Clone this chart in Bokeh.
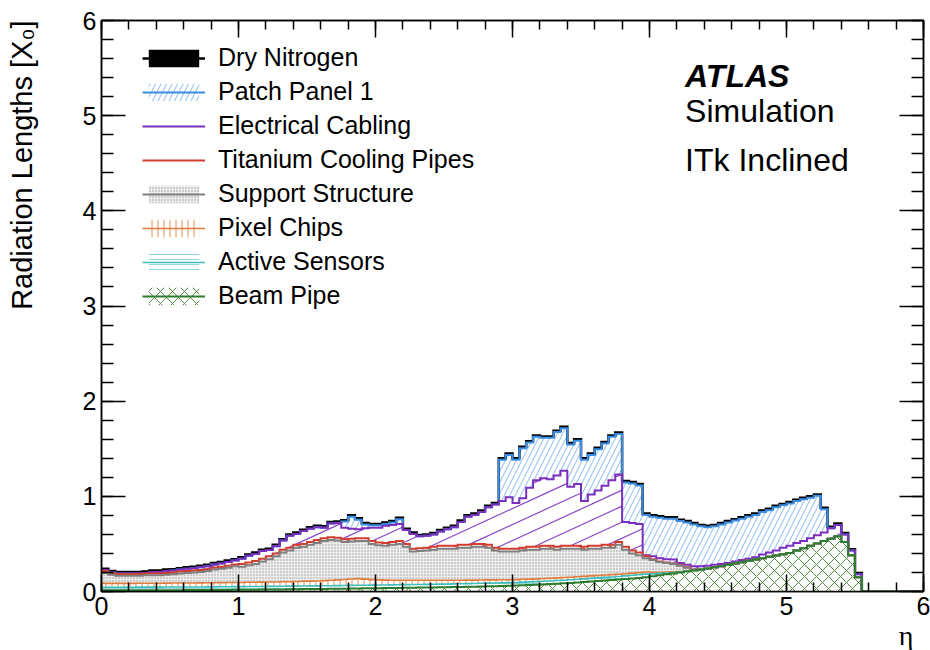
import numpy as np
from bokeh.plotting import figure
from bokeh.models import (Range1d, LinearAxis, SingleIntervalTicker, Legend, LegendItem,
                          Label, Title, CustomJSTickFormatter)
from bokeh.embed import file_html
from bokeh.resources import INLINE

# ---------------- data: 120 eta bins of width 0.05 from 0 to 6 ----------------
eta_min, eta_max, n_bins = 0.0, 6.0, 120
eta_edges = np.linspace(eta_min, eta_max, n_bins + 1)

beam_pipe = [
    0.012, 0.012, 0.012, 0.012, 0.012, 0.013, 0.013, 0.013, 0.013, 0.014, 0.014, 0.014, 0.015, 0.015, 0.015, 0.016, 0.016, 0.017, 0.017, 0.018,
    0.018, 0.019, 0.019, 0.020, 0.021, 0.021, 0.022, 0.023, 0.024, 0.025, 0.026, 0.026, 0.027, 0.028, 0.029, 0.030, 0.031, 0.032, 0.033, 0.034,
    0.035, 0.036, 0.037, 0.038, 0.039, 0.040, 0.041, 0.042, 0.043, 0.044, 0.045, 0.047, 0.048, 0.050, 0.051, 0.053, 0.055, 0.056, 0.058, 0.060,
    0.062, 0.065, 0.068, 0.071, 0.074, 0.078, 0.082, 0.086, 0.090, 0.095, 0.100, 0.105, 0.110, 0.115, 0.120, 0.125, 0.131, 0.137, 0.143, 0.150,
    0.160, 0.170, 0.180, 0.190, 0.200, 0.210, 0.220, 0.230, 0.242, 0.254, 0.266, 0.280, 0.294, 0.308, 0.322, 0.336, 0.350, 0.364, 0.378, 0.392,
    0.405, 0.430, 0.455, 0.480, 0.505, 0.530, 0.555, 0.580, 0.520, 0.380, 0.150, 0, 0, 0, 0, 0, 0, 0, 0, 0,
]
active_sensors = [
    0.033, 0.033, 0.033, 0.033, 0.033, 0.033, 0.033, 0.033, 0.033, 0.033, 0.033, 0.033, 0.033, 0.033, 0.033, 0.033, 0.033, 0.033, 0.033, 0.033,
    0.033, 0.033, 0.033, 0.033, 0.033, 0.033, 0.033, 0.033, 0.033, 0.033, 0.033, 0.033, 0.033, 0.033, 0.033, 0.033, 0.033, 0.033, 0.033, 0.033,
    0.033, 0.033, 0.033, 0.033, 0.033, 0.033, 0.033, 0.033, 0.033, 0.033, 0.033, 0.033, 0.033, 0.033, 0.033, 0.033, 0.033, 0.033, 0.033, 0.033,
    0.033, 0.033, 0.033, 0.033, 0.033, 0.033, 0.033, 0.033, 0.033, 0.033, 0.033, 0.033, 0.033, 0.033, 0.033, 0.033, 0.033, 0.033, 0.033, 0.033,
    0.025, 0.020, 0.015, 0.010, 0.006, 0.003, 0.001, 0, 0, 0, 0, 0, 0, 0, 0, 0, 0, 0, 0, 0,
    0, 0, 0, 0, 0, 0, 0, 0, 0, 0, 0, 0, 0, 0, 0, 0, 0, 0, 0, 0,
]
pixel_chips = [
    0.040, 0.040, 0.040, 0.040, 0.040, 0.041, 0.041, 0.041, 0.041, 0.041, 0.042, 0.042, 0.042, 0.042, 0.043, 0.043, 0.043, 0.043, 0.044, 0.044,
    0.044, 0.045, 0.045, 0.045, 0.046, 0.046, 0.047, 0.047, 0.048, 0.049, 0.050, 0.052, 0.054, 0.057, 0.060, 0.063, 0.068, 0.070, 0.064, 0.058,
    0.054, 0.051, 0.049, 0.047, 0.046, 0.045, 0.044, 0.043, 0.042, 0.041, 0.040, 0.039, 0.038, 0.037, 0.036, 0.035, 0.034, 0.033, 0.032, 0.031,
    0.030, 0.030, 0.029, 0.029, 0.029, 0.028, 0.028, 0.028, 0.027, 0.027, 0.026, 0.026, 0.025, 0.025, 0.024, 0.024, 0.023, 0.023, 0.022, 0.022,
    0.017, 0.013, 0.010, 0.007, 0.004, 0.002, 0.001, 0, 0, 0, 0, 0, 0, 0, 0, 0, 0, 0, 0, 0,
    0, 0, 0, 0, 0, 0, 0, 0, 0, 0, 0, 0, 0, 0, 0, 0, 0, 0, 0, 0,
]
support_structure = [
    0.110, 0.090, 0.080, 0.080, 0.080, 0.078, 0.083, 0.083, 0.083, 0.087, 0.091, 0.101, 0.105, 0.110, 0.114, 0.123, 0.138, 0.147, 0.156, 0.170,
    0.165, 0.178, 0.193, 0.217, 0.240, 0.270, 0.308, 0.327, 0.355, 0.363, 0.381, 0.399, 0.416, 0.422, 0.413, 0.394, 0.393, 0.395, 0.400, 0.375,
    0.363, 0.360, 0.371, 0.382, 0.352, 0.302, 0.307, 0.312, 0.322, 0.332, 0.332, 0.331, 0.341, 0.340, 0.350, 0.349, 0.338, 0.308, 0.297, 0.296,
    0.295, 0.302, 0.310, 0.307, 0.314, 0.311, 0.297, 0.303, 0.300, 0.295, 0.281, 0.286, 0.282, 0.287, 0.283, 0.308, 0.253, 0.207, 0.182, 0.145,
    0.128, 0.107, 0.095, 0.083, 0.060, 0.035, 0.008, 0, 0, 0, 0, 0, 0, 0, 0, 0, 0, 0, 0, 0,
    0, 0, 0, 0, 0, 0, 0, 0, 0, 0, 0, 0, 0, 0, 0, 0, 0, 0, 0, 0,
]
titanium_cooling = [
    0.020, 0.020, 0.020, 0.020, 0.020, 0.020, 0.020, 0.020, 0.020, 0.020, 0.020, 0.020, 0.020, 0.020, 0.020, 0.020, 0.020, 0.020, 0.020, 0.020,
    0.030, 0.030, 0.030, 0.030, 0.030, 0.030, 0.030, 0.030, 0.030, 0.030, 0.030, 0.030, 0.030, 0.030, 0.030, 0.030, 0.030, 0.030, 0.030, 0.030,
    0.030, 0.030, 0.030, 0.030, 0.030, 0.030, 0.030, 0.030, 0.030, 0.030, 0.030, 0.030, 0.030, 0.030, 0.030, 0.030, 0.030, 0.030, 0.030, 0.030,
    0.030, 0.030, 0.030, 0.030, 0.030, 0.030, 0.030, 0.030, 0.030, 0.030, 0.030, 0.030, 0.030, 0.030, 0.030, 0.030, 0.030, 0.030, 0.030, 0.020,
    0.010, 0.005, 0.005, 0.005, 0.005, 0.005, 0.002, 0, 0, 0, 0, 0, 0, 0, 0, 0, 0, 0, 0, 0,
    0, 0, 0, 0, 0, 0, 0, 0, 0, 0, 0, 0, 0, 0, 0, 0, 0, 0, 0, 0,
]
electrical_cabling = [
    0.010, 0.005, 0.005, 0.005, 0.005, 0.005, 0.005, 0.015, 0.015, 0.020, 0.020, 0.020, 0.025, 0.025, 0.030, 0.030, 0.035, 0.035, 0.040, 0.040,
    0.055, 0.070, 0.075, 0.080, 0.065, 0.075, 0.095, 0.125, 0.115, 0.135, 0.140, 0.135, 0.110, 0.145, 0.155, 0.120, 0.105, 0.095, 0.105, 0.140,
    0.155, 0.180, 0.180, 0.180, 0.145, 0.155, 0.125, 0.125, 0.130, 0.150, 0.175, 0.195, 0.240, 0.295, 0.305, 0.335, 0.395, 0.455, 0.500, 0.540,
    0.480, 0.520, 0.620, 0.700, 0.710, 0.700, 0.750, 0.790, 0.620, 0.650, 0.480, 0.540, 0.580, 0.620, 0.680, 0.710, 0.260, 0.290, 0.300, 0.010,
    0.030, 0.035, 0.035, 0.040, 0.025, 0.025, 0.033, 0.035, 0.028, 0.026, 0.024, 0.020, 0.021, 0.022, 0.023, 0.024, 0.040, 0.046, 0.052, 0.068,
    0.075, 0.080, 0.075, 0.080, 0.085, 0.090, 0.110, 0.120, 0.080, 0.050, 0.030, 0, 0, 0, 0, 0, 0, 0, 0, 0,
]
patch_panel = [
    0, 0, 0, 0, 0, 0, 0, 0, 0, 0, 0, 0, 0, 0, 0, 0, 0, 0, 0, 0,
    0, 0, 0, 0, 0, 0, 0, 0, 0, 0, 0, 0, 0, 0, 0, 0.065, 0.125, 0.100, 0.040, 0.025,
    0.025, 0.020, 0.025, 0.050, 0, 0, 0, 0, 0, 0, 0, 0, 0, 0, 0, 0, 0, 0, 0.435, 0.445,
    0.455, 0.525, 0.475, 0.455, 0.425, 0.435, 0.455, 0.445, 0.445, 0.455, 0.435, 0.415, 0.435, 0.445, 0.455, 0.425, 0.415, 0.415, 0.405, 0.425,
    0.415, 0.425, 0.425, 0.430, 0.440, 0.445, 0.440, 0.420, 0.405, 0.405, 0.415, 0.425, 0.430, 0.435, 0.440, 0.445, 0.445, 0.445, 0.455, 0.445,
    0.445, 0.440, 0.440, 0.425, 0.415, 0.245, 0, 0, 0, 0, 0, 0, 0, 0, 0, 0, 0, 0, 0, 0,
]
dry_nitrogen = [
    0.015, 0.015, 0.015, 0.015, 0.015, 0.015, 0.015, 0.015, 0.015, 0.015, 0.015, 0.015, 0.015, 0.015, 0.015, 0.015, 0.015, 0.015, 0.015, 0.015,
    0.015, 0.015, 0.015, 0.015, 0.015, 0.015, 0.015, 0.015, 0.015, 0.015, 0.015, 0.015, 0.015, 0.015, 0.015, 0.015, 0.015, 0.015, 0.015, 0.015,
    0.015, 0.015, 0.015, 0.015, 0.015, 0.015, 0.015, 0.015, 0.015, 0.015, 0.015, 0.015, 0.015, 0.015, 0.015, 0.015, 0.015, 0.015, 0.015, 0.015,
    0.015, 0.015, 0.015, 0.015, 0.015, 0.015, 0.015, 0.015, 0.015, 0.015, 0.015, 0.015, 0.015, 0.015, 0.015, 0.015, 0.015, 0.015, 0.015, 0.015,
    0.015, 0.015, 0.015, 0.015, 0.015, 0.015, 0.015, 0.015, 0.015, 0.015, 0.015, 0.015, 0.015, 0.015, 0.015, 0.015, 0.015, 0.015, 0.015, 0.015,
    0.015, 0.015, 0.015, 0.015, 0.015, 0.015, 0.015, 0.015, 0.015, 0.015, 0.015, 0, 0, 0, 0, 0, 0, 0, 0, 0,
]

# stacking order, bottom to top
layer_names = ["Beam Pipe", "Active Sensors", "Pixel Chips", "Support Structure",
               "Titanium Cooling Pipes", "Electrical Cabling", "Patch Panel 1", "Dry Nitrogen"]
layer_values = [beam_pipe, active_sensors, pixel_chips, support_structure,
                titanium_cooling, electrical_cabling, patch_panel, dry_nitrogen]
legend_order = ["Dry Nitrogen", "Patch Panel 1", "Electrical Cabling", "Titanium Cooling Pipes",
                "Support Structure", "Pixel Chips", "Active Sensors", "Beam Pipe"]
for v in layer_values:
    assert len(v) == n_bins

# ---------------- styles ----------------
FONT = "Liberation Sans"
FRAME_W, FRAME_H = 822, 571

styles = {
    "Dry Nitrogen": dict(fill_color="black", hatch_pattern=None, line_color="black", line_width=2.5),
    "Patch Panel 1": dict(fill_color="white", hatch_pattern="/", hatch_color="#9cc6f2",
                          hatch_scale=11, hatch_weight=1.1, line_color="#3a8ee6", line_width=2.0),
    "Electrical Cabling": dict(fill_color="white", hatch_pattern=None, line_color="#7b2fbf", line_width=2.0,
                               lines=dict(slope=0.46, spacing=16, color="#8a45c8", width=1.2)),
    "Titanium Cooling Pipes": dict(fill_color="white", hatch_pattern=None, line_color="#d23c2c", line_width=2.0,
                                   lines=dict(slope=-0.45, spacing=14, color="#d23c2c", width=1.2)),
    "Support Structure": dict(fill_color="#ededed", hatch_pattern=".", hatch_color="#9a9a9a",
                              hatch_scale=3, hatch_weight=1, line_color="#7f7f7f", line_width=2.0),
    "Pixel Chips": dict(fill_color="white", hatch_pattern="|", hatch_color="#e69158",
                        hatch_scale=6, hatch_weight=1, line_color="#e07d3c", line_width=1.6),
    "Active Sensors": dict(fill_color="white", hatch_pattern="-", hatch_color="#90d8d8",
                           hatch_scale=5, hatch_weight=1, line_color="#3fbcbc", line_width=1.6),
    "Beam Pipe": dict(fill_color="white", hatch_pattern="x", hatch_color="#4f8f40",
                      hatch_scale=12, hatch_weight=1, line_color="#2e7a2e", line_width=2.0),
}

# ---------------- figure ----------------
p = figure(width=930, height=650, x_range=Range1d(eta_min, eta_max), y_range=Range1d(0, 6),
           output_backend="svg", toolbar_location=None, x_axis_type=None, y_axis_type=None,
           min_border_left=101, min_border_right=7, min_border_top=20, min_border_bottom=59)
p.xgrid.visible = False
p.ygrid.visible = False
p.outline_line_color = "black"
p.outline_line_width = 1.5
p.background_fill_color = "white"
p.border_fill_color = "white"

blank = CustomJSTickFormatter(code="return '';")


def make_axis(tick_in, minor_in, labels=True):
    ax = LinearAxis(ticker=SingleIntervalTicker(interval=1, num_minor_ticks=5))
    ax.major_tick_in = tick_in
    ax.major_tick_out = 0
    ax.minor_tick_in = minor_in
    ax.minor_tick_out = 0
    ax.axis_line_color = "black"
    ax.axis_line_width = 1.5
    ax.major_tick_line_width = 1.5
    ax.minor_tick_line_width = 1.5
    ax.major_label_text_font = FONT
    ax.major_label_text_color = "black"
    if labels:
        ax.major_label_text_font_size = "25px"
        ax.major_label_standoff = 5
    else:
        ax.formatter = blank
        ax.major_label_text_font_size = "1px"
        ax.major_label_standoff = 0
    return ax


p.add_layout(make_axis(17, 9), "below")
p.add_layout(make_axis(17, 9, labels=False), "above")
p.add_layout(make_axis(24, 12), "left")
p.add_layout(make_axis(24, 12, labels=False), "right")

# invisible spacer (white outward ticks) so that the y title sits at the far left, as in ROOT
spacer = LinearAxis(ticker=SingleIntervalTicker(interval=6, num_minor_ticks=0), formatter=blank,
                    major_label_text_font_size="1px", major_label_standoff=0,
                    axis_line_color=None, major_tick_line_color="white", minor_tick_line_color=None,
                    major_tick_in=0, major_tick_out=40, minor_tick_in=0, minor_tick_out=0)
p.add_layout(spacer, "left")

# axis titles (ROOT style: at the far ends of the axes)
p.add_layout(Title(text="Radiation Lengths [X\u2080]", align="right", text_font=FONT,
                   text_font_size="29px", text_font_style="normal", text_color="black",
                   standoff=4), "left")
p.add_layout(Title(text="\u03b7", align="right", text_font="Liberation Serif",
                   text_font_size="28px", text_font_style="normal", text_color="black",
                   offset=10, standoff=0), "below")

# ---------------- stacked histogram ----------------
vals = np.array(layer_values, dtype=float)
tops = np.cumsum(vals, axis=0)
bottoms = np.vstack([np.zeros(n_bins), tops[:-1]])
step_x = np.repeat(eta_edges, 2)[1:-1]

px_per_x = FRAME_W / (eta_max - eta_min)
px_per_y = FRAME_H / 6.0


def hatch_lines(lo, hi, slope_px, spacing_px):
    """Parallel hatch lines clipped to the step band lo < y < hi (per bin)."""
    m = slope_px * px_per_x / px_per_y
    dc = spacing_px / px_per_y
    span = abs(m) * (eta_max - eta_min)
    xs_out, ys_out = [], []
    for c in np.arange(-span - dc, hi.max() + span + dc, dc):
        segs = []
        for i in range(n_bins):
            if hi[i] - lo[i] <= 1e-9:
                continue
            a, b = sorted(((lo[i] - c) / m, (hi[i] - c) / m))
            xa, xb = max(a, eta_edges[i]), min(b, eta_edges[i + 1])
            if xb - xa > 1e-9:
                if segs and abs(segs[-1][1] - xa) < 1e-9:
                    segs[-1][1] = xb
                else:
                    segs.append([xa, xb])
        for xa, xb in segs:
            xs_out.append([xa, xb])
            ys_out.append([m * xa + c, m * xb + c])
    return xs_out, ys_out


patch_r = {}
hatch_r = {}
for k, name in enumerate(layer_names):
    st = styles[name]
    up = np.repeat(tops[k], 2)
    lo = np.repeat(bottoms[k], 2)
    px = np.concatenate([step_x, step_x[::-1]])
    py = np.concatenate([up, lo[::-1]])
    kw = dict(fill_color=st["fill_color"], line_color=None)
    if st["hatch_pattern"] is not None:
        kw.update(hatch_pattern=st["hatch_pattern"], hatch_color=st["hatch_color"],
                  hatch_scale=st["hatch_scale"], hatch_weight=st["hatch_weight"])
    patch_r[name] = p.patch(x=px, y=py, **kw)

for k, name in enumerate(layer_names):
    st = styles[name]
    if "lines" in st:
        ln = st["lines"]
        hx, hy = hatch_lines(bottoms[k], tops[k], ln["slope"], ln["spacing"])
        hatch_r[name] = p.multi_line(xs=hx, ys=hy, line_color=ln["color"], line_width=ln["width"])

line_r = {}
for k in range(len(layer_names) - 1, -1, -1):
    name = layer_names[k]
    st = styles[name]
    line_r[name] = p.line(x=step_x, y=np.repeat(tops[k], 2), line_color=st["line_color"],
                          line_width=st["line_width"], line_join="miter")

items = [LegendItem(label=n, renderers=[patch_r[n], line_r[n]]) for n in legend_order]
legend = Legend(items=items, location=(41, 281), padding=0, margin=0, spacing=5,
                glyph_width=63, glyph_height=22, label_height=28, label_standoff=13,
                label_text_font=FONT, label_text_font_size="25px", label_text_color="black",
                border_line_color=None, background_fill_alpha=0)
p.add_layout(legend)

# ---------------- texts ----------------
p.add_layout(Label(x=4.26, y=5.42, text="ATLAS", text_font=FONT, text_font_style="bold italic",
                   text_font_size="32px", text_baseline="alphabetic", text_color="black"))
p.add_layout(Label(x=4.26, y=5.054, text="Simulation", text_font=FONT,
                   text_font_size="32px", text_baseline="alphabetic", text_color="black"))
p.add_layout(Label(x=4.26, y=4.53, text="ITk Inclined", text_font=FONT,
                   text_font_size="32px", text_baseline="alphabetic", text_color="black"))

open("out.html", "w").write(file_html(p, INLINE))
